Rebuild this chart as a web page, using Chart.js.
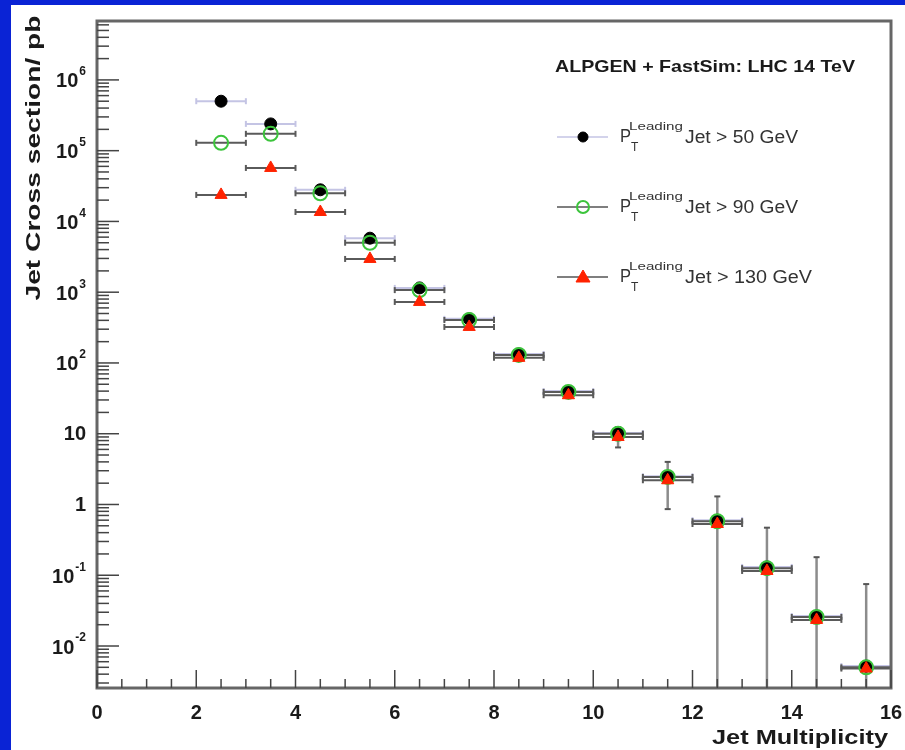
<!DOCTYPE html>
<html>
<head>
<meta charset="utf-8">
<script src="https://cdn.jsdelivr.net/npm/chart.js@4.4.1/dist/chart.umd.min.js"></script>
<style>
  html, body { margin: 0; padding: 0; background: #0a23d5; }
  #wrap { width: 905px; height: 750px; position: relative; }
  canvas { display: block; }
</style>
</head>
<body>
<div id="wrap"><canvas id="c" width="905" height="750"></canvas></div>
<script>
// ---------------- data ----------------
const binCenters   = [2.5, 3.5, 4.5, 5.5, 6.5, 7.5, 8.5, 9.5, 10.5, 11.5, 12.5, 13.5, 14.5, 15.5];
const binHalfWidth = [0.5, 0.5, 0.5, 0.5, 0.5, 0.5, 0.5, 0.5, 0.5, 0.5, 0.5, 0.5, 0.5, 0.5];
const xsecPt50  = [5.0e5, 2.39e5, 2.8e4, 5.8e3, 1150, 420, 134, 40, 10.2, 2.5, 0.60, 0.131, 0.0265, 0.0052];
const xsecPt90  = [1.29e5, 1.73e5, 2.5e4, 5.0e3, 1070, 405, 130, 39, 10.0, 2.45, 0.58, 0.126, 0.0257, 0.0050];
const xsecPt130 = [2.37e4, 5.7e4, 1.36e4, 2950, 728, 323, 118, 35, 9.0, 2.2, 0.53, 0.115, 0.0234, 0.0048];
// vertical error band (upper / lower bound of the cross section); 0 = reaches the axis
const errHigh = [null, null, null, null, null, null, null, null, 12.4, 4.0, 1.3, 0.47, 0.18, 0.075];
const errLow  = [null, null, null, null, null, null, null, null, 6.4, 0.86, 0, 0, 0, 0];

const xTickValues   = [0, 2, 4, 6, 8, 10, 12, 14, 16];
const yTickExponents = [-2, -1, 0, 1, 2, 3, 4, 5, 6];
const seriesNames = ['Jet > 50 GeV', 'Jet > 90 GeV', 'Jet > 130 GeV'];
const plotTitle = 'ALPGEN + FastSim: LHC 14 TeV';
const xTitle = 'Jet Multiplicity';
const yTitle = 'Jet Cross section/ pb';

// ---------------- styling ----------------
const FONT = "'Liberation Sans', Arial, Helvetica, sans-serif";
const BLUE = '#0a23d5';
const FRAME = '#666666';
const seriesStyle = [
  { fill: '#000000', stroke: '#000000', shape: 'circle', r: 6, bw: 1, bar: '#c4c4e4' },
  { fill: 'rgba(0,0,0,0)', stroke: '#3cc43c', shape: 'circle', r: 7, bw: 2, bar: '#5a5a5a' },
  { fill: '#ff2200', stroke: '#ff2200', shape: 'triangle', r: 7, bw: 1, bar: '#5a5a5a' }
];
const seriesData = [xsecPt50, xsecPt90, xsecPt130];

function pts(arr) { return binCenters.map((x, i) => ({ x: x, y: arr[i] })); }

function fitText(ctx, txt, x, y, font, targetW, align) {
  ctx.save();
  ctx.font = font;
  const w = ctx.measureText(txt).width;
  const s = targetW ? targetW / w : 1;
  let x0 = x;
  if (align === 'right') x0 = x - w * s;
  else if (align === 'center') x0 = x - w * s / 2;
  ctx.translate(x0, y);
  ctx.scale(s, 1);
  ctx.textAlign = 'left';
  ctx.fillText(txt, 0, 0);
  ctx.restore();
  return w * s;
}

const decorPlugin = {
  id: 'decor',
  beforeDraw(chart) {
    const ctx = chart.ctx;
    ctx.save();
    ctx.fillStyle = BLUE;
    ctx.fillRect(0, 0, 905, 750);
    ctx.fillStyle = '#ffffff';
    ctx.fillRect(11, 5, 894, 745);
    ctx.restore();
  },
  beforeDatasetsDraw(chart) {
    const ctx = chart.ctx;
    const xs = chart.scales.x, ys = chart.scales.y;
    const a = chart.chartArea;
    ctx.save();
    ctx.beginPath();
    ctx.rect(a.left, a.top, a.right - a.left, a.bottom - a.top);
    ctx.clip();
    // vertical error bars
    ctx.strokeStyle = '#8c8c8c';
    ctx.lineWidth = 2.5;
    binCenters.forEach((c, i) => {
      if (errHigh[i] == null) return;
      const px = xs.getPixelForValue(c);
      const yh = ys.getPixelForValue(errHigh[i]);
      const yl = errLow[i] > 0 ? ys.getPixelForValue(errLow[i]) : a.bottom + 2;
      ctx.beginPath(); ctx.moveTo(px, yh); ctx.lineTo(px, yl); ctx.stroke();
      ctx.strokeStyle = '#555'; ctx.lineWidth = 2;
      ctx.beginPath(); ctx.moveTo(px - 3, yh); ctx.lineTo(px + 3, yh); ctx.stroke();
      if (errLow[i] > 0) { ctx.beginPath(); ctx.moveTo(px - 3, yl); ctx.lineTo(px + 3, yl); ctx.stroke(); }
      ctx.strokeStyle = '#8c8c8c'; ctx.lineWidth = 2.5;
    });
    // horizontal (bin width) bars
    seriesData.forEach((arr, k) => {
      ctx.strokeStyle = seriesStyle[k].bar;
      ctx.lineWidth = 2;
      binCenters.forEach((c, i) => {
        const py = ys.getPixelForValue(arr[i]);
        const x1 = xs.getPixelForValue(c - binHalfWidth[i]);
        const x2 = xs.getPixelForValue(c + binHalfWidth[i]);
        ctx.beginPath(); ctx.moveTo(x1, py); ctx.lineTo(x2, py); ctx.stroke();
        ctx.beginPath(); ctx.moveTo(x1, py - 3); ctx.lineTo(x1, py + 3); ctx.stroke();
        ctx.beginPath(); ctx.moveTo(x2, py - 3); ctx.lineTo(x2, py + 3); ctx.stroke();
      });
    });
    ctx.restore();
  },
  afterDraw(chart) {
    const ctx = chart.ctx;
    const xs = chart.scales.x, ys = chart.scales.y;
    const a = chart.chartArea;
    ctx.save();
    // frame
    ctx.strokeStyle = FRAME;
    ctx.lineWidth = 3;
    ctx.strokeRect(a.left, a.top, a.right - a.left, a.bottom - a.top);
    ctx.lineWidth = 1.5;
    ctx.strokeStyle = '#444';
    // x ticks
    for (let v = 0; v <= 16.001; v += 0.5) {
      const px = xs.getPixelForValue(v);
      const major = Math.abs(v / 2 - Math.round(v / 2)) < 1e-6;
      const len = major ? 18 : 9;
      ctx.beginPath(); ctx.moveTo(px, a.bottom); ctx.lineTo(px, a.bottom - len); ctx.stroke();
    }
    // y ticks (log)
    for (let e = -3; e <= 6; e++) {
      for (let m = 1; m <= 9; m++) {
        const v = m * Math.pow(10, e);
        if (v < ys.min || v > ys.max) continue;
        const py = ys.getPixelForValue(v);
        const len = m === 1 ? 22 : 12;
        ctx.beginPath(); ctx.moveTo(a.left, py); ctx.lineTo(a.left + len, py); ctx.stroke();
      }
    }
    // x tick labels
    ctx.fillStyle = '#1a1a1a';
    ctx.textBaseline = 'middle';
    ctx.font = 'bold 20px ' + FONT;
    ctx.textAlign = 'center';
    xTickValues.forEach(v => {
      ctx.fillText(String(v), xs.getPixelForValue(v), 713);
    });
    // y tick labels
    yTickExponents.forEach(e => {
      const py = ys.getPixelForValue(Math.pow(10, e));
      const right = 86;
      ctx.textAlign = 'right';
      if (e === 0 || e === 1) {
        ctx.font = 'bold 20px ' + FONT;
        ctx.fillText(e === 0 ? '1' : '10', right, py + 1);
      } else {
        ctx.font = 'bold 12px ' + FONT;
        const sup = String(e);
        const sw = ctx.measureText(sup).width;
        ctx.fillText(sup, right, py - 8);
        ctx.font = 'bold 20px ' + FONT;
        ctx.fillText('10', right - sw - 1, py + 2);
      }
    });
    // axis titles
    ctx.font = 'bold 21px ' + FONT;
    fitText(ctx, xTitle, 888, 738, 'bold 21px ' + FONT, 176, 'right');
    ctx.save();
    ctx.translate(34, 158);
    ctx.rotate(-Math.PI / 2);
    fitText(ctx, yTitle, 0, 0, 'bold 21px ' + FONT, 285, 'center');
    ctx.restore();
    // plot title
    fitText(ctx, plotTitle, 555, 67, 'bold 17px ' + FONT, 300, 'left');
    // legend
    const rowY = [137, 207, 277];
    const lineCols = ['#c4c4e4', '#555555', '#555555'];
    const nameW = [113, 113, 127];
    rowY.forEach((y, k) => {
      ctx.strokeStyle = lineCols[k];
      ctx.lineWidth = 1.5;
      ctx.beginPath(); ctx.moveTo(557, y); ctx.lineTo(608, y); ctx.stroke();
      const st = seriesStyle[k];
      ctx.lineWidth = st.bw;
      ctx.fillStyle = st.fill; ctx.strokeStyle = st.stroke;
      ctx.beginPath();
      if (st.shape === 'circle') {
        ctx.arc(583, y, st.shape === 'circle' && k === 0 ? 5 : 6, 0, Math.PI * 2);
      } else {
        ctx.moveTo(583, y - 7); ctx.lineTo(590, y + 5); ctx.lineTo(576, y + 5); ctx.closePath();
      }
      ctx.fill(); ctx.stroke();
      ctx.fillStyle = '#333333';
      ctx.textBaseline = 'middle';
      fitText(ctx, 'P', 620, y, '18px ' + FONT, 11, 'left');
      fitText(ctx, 'Leading', 629, y - 10, '11px ' + FONT, 54, 'left');
      fitText(ctx, 'T', 631, y + 11, '12px ' + FONT, 0, 'left');
      fitText(ctx, seriesNames[k], 685, y + 1, '18px ' + FONT, nameW[k], 'left');
    });
    ctx.restore();
  }
};

new Chart(document.getElementById('c'), {
  type: 'scatter',
  data: {
    datasets: [0, 1, 2].map(k => ({
      label: seriesNames[k],
      data: pts(seriesData[k]),
      showLine: false,
      pointStyle: seriesStyle[k].shape,
      pointRadius: seriesStyle[k].r,
      pointBackgroundColor: seriesStyle[k].fill,
      pointBorderColor: seriesStyle[k].stroke,
      pointBorderWidth: seriesStyle[k].bw,
      order: 3 - k
    }))
  },
  options: {
    responsive: false,
    animation: false,
    events: [],
    layout: { padding: { left: 97, top: 21, right: 14, bottom: 62 } },
    plugins: { legend: { display: false }, tooltip: { enabled: false } },
    scales: {
      x: { type: 'linear', min: 0, max: 16, display: false },
      y: { type: 'logarithmic', min: 0.00255, max: 6.8e6, display: false }
    }
  },
  plugins: [decorPlugin]
});
</script>
</body>
</html>
